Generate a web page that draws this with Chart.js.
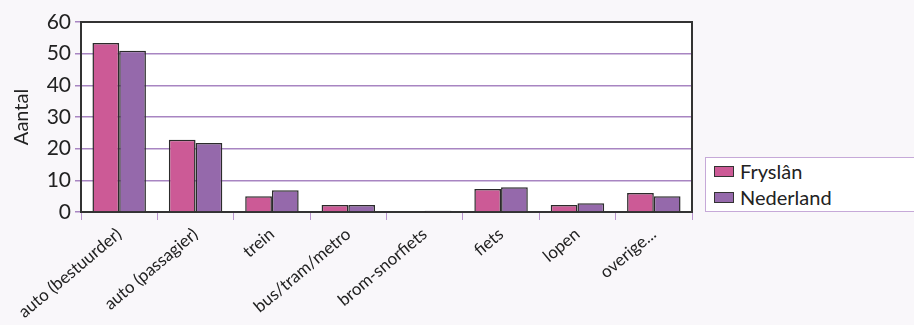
<!DOCTYPE html>
<html>
<head>
<meta charset="utf-8">
<script src="https://cdn.jsdelivr.net/npm/chart.js@4"></script>
<style>
  html, body { margin: 0; padding: 0; background: #F9F7FA; }
  #wrap { position: relative; width: 914px; height: 325px; }
  #legend { position: absolute; left: 705px; top: 157px; width: 220px; height: 55px;
    background: #fff; border: 1px solid #C6A9D8; box-sizing: border-box;
    font-family: Lato, "Open Sans", sans-serif; font-size: 20px; color: #222; }
  .item { position: absolute; left: 8px; display: flex; align-items: center; }
  .sw { width: 20px; height: 11px; border: 1.5px solid #333; box-sizing: border-box; margin-right: 6px; }
</style>
</head>
<body>
<div id="wrap">
  <canvas id="c" width="914" height="325"></canvas>
  <div id="legend"></div>
</div>
<script>
const categories = ["auto (bestuurder)", "auto (passagier)", "trein", "bus/tram/metro", "brom-snorfiets", "fiets", "lopen", "overige..."];
const seriesNames = ["Fryslân", "Nederland"];
const fryslan = [53.4, 22.8, 5.0, 2.2, 0, 7.3, 2.2, 6.0];
const nederland = [50.9, 21.8, 6.9, 2.2, 0.4, 7.8, 2.8, 5.0];
const yTicks = [0, 10, 20, 30, 40, 50, 60];
const colors = ["#CC5A96", "#9569AB"];
const FONT = 'Lato, "Open Sans", sans-serif';

const legendEl = document.getElementById('legend');
seriesNames.forEach((n, i) => {
  const d = document.createElement('div');
  d.className = 'item';
  d.style.top = (i === 0 ? 1 : 27) + 'px';
  d.innerHTML = '<span class="sw" style="background:' + colors[i] + '"></span><span>' + n + '</span>';
  legendEl.appendChild(d);
});

const framePlugin = {
  id: 'frame',
  beforeDraw(chart) {
    const { ctx, chartArea: a } = chart;
    ctx.save();
    ctx.fillStyle = '#fff';
    ctx.fillRect(a.left, a.top, a.right - a.left, a.bottom - a.top);
    ctx.restore();
  },
  afterDatasetsDraw(chart) {
    const { ctx, chartArea: a } = chart;
    ctx.save();
    ctx.strokeStyle = '#333';
    ctx.lineWidth = 2;
    ctx.beginPath();
    ctx.moveTo(a.left, a.top);
    ctx.lineTo(a.right, a.top);
    ctx.lineTo(a.right, a.bottom);
    ctx.stroke();
    ctx.restore();
  }
};

new Chart(document.getElementById('c'), {
  type: 'bar',
  data: {
    labels: categories,
    datasets: [
      { label: seriesNames[0], data: fryslan, backgroundColor: colors[0], borderColor: '#2b2b2b', borderWidth: 1.5 },
      { label: seriesNames[1], data: nederland, backgroundColor: colors[1], borderColor: '#2b2b2b', borderWidth: 1.5 }
    ]
  },
  options: {
    responsive: false,
    animation: false,
    layout: { padding: { left: 0, right: 222, top: 22, bottom: 0 } },
    datasets: { bar: { categoryPercentage: 0.7, barPercentage: 1.0 } },
    plugins: { legend: { display: false }, tooltip: { enabled: false } },
    scales: {
      x: {
        offset: true,
        afterFit(s) { s.height = 113; },
        grid: { offset: true, drawOnChartArea: false, drawTicks: true, tickLength: 8, color: '#B994CE', lineWidth: 1 },
        border: { display: true, color: '#333', width: 2 },
        ticks: {
          minRotation: 40, maxRotation: 40, autoSkip: false, padding: 4,
          color: '#222', font: { family: FONT, size: 17 }
        }
      },
      y: {
        min: 0, max: 60,
        afterFit(s) { s.width = 81; },
        afterBuildTicks(s) { s.ticks = yTicks.map(v => ({ value: v })); },
        grid: { color: '#A885C2', lineWidth: 1.5, tickLength: 6 },
        border: { display: true, color: '#333', width: 2 },
        ticks: { padding: 4, color: '#222', font: { family: FONT, size: 21 } },
        title: { display: true, text: 'Aantal', color: '#222', padding: { top: 10, bottom: 0 },
          font: { family: FONT, size: 20 } }
      }
    }
  },
  plugins: [framePlugin]
});
</script>
</body>
</html>
